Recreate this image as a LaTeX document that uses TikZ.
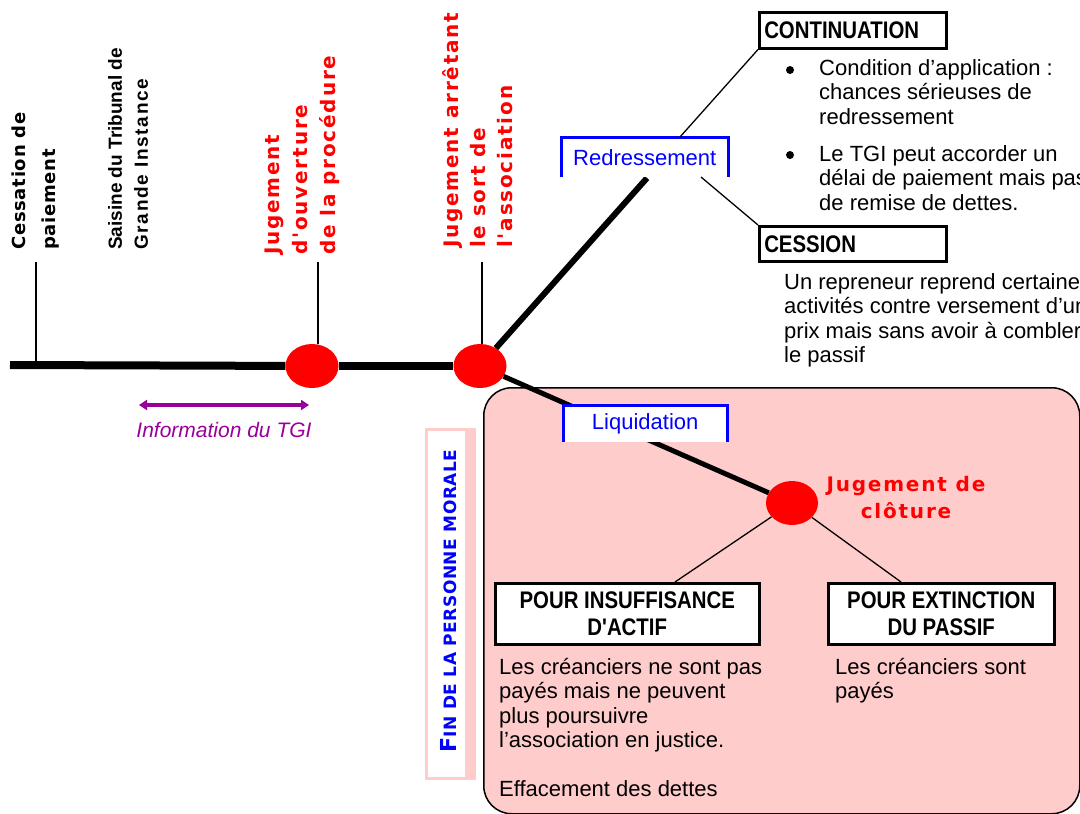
\documentclass[tikz,border=0pt]{standalone}
\usepackage{fontspec}
\setmainfont{Liberation Sans}
\newfontfamily\dvA[LetterSpace=4]{DejaVu Sans}
\newfontfamily\dvR[LetterSpace=9]{DejaVu Sans}
\newfontfamily\dvF[LetterSpace=3]{DejaVu Sans}
\newfontfamily\lbLS[LetterSpace=9]{Liberation Sans}
\newfontfamily\cond[FakeStretch=0.85]{Liberation Sans}
\usetikzlibrary{shapes.geometric,arrows.meta}
\definecolor{pinkc}{RGB}{255,204,204}
\definecolor{purp}{RGB}{153,0,153}
\begin{document}
\begin{tikzpicture}[x=1pt,y=-1pt,
  dotr/.style={ellipse, fill=red, inner sep=0, minimum width=53, minimum height=44},
  tickln/.style={line width=2},
  vlab/.style={rotate=90, anchor=north west, align=left, inner sep=0},
  blackbox/.style={draw, line width=2.5, fill=white, inner sep=0, anchor=north west, font=\cond\bfseries\fontsize{24}{27}\selectfont},
  bluebox/.style={fill=white, inner sep=0, text=blue, anchor=north west, font=\fontsize{22}{24}\selectfont},
  blueedge/.style={blue, line width=3},
  thinl/.style={line width=1.3},
  bulletdot/.style={circle, fill=black, inner sep=0, minimum size=8},
  body/.style={anchor=north west, align=left, inner sep=0, font=\fontsize{22}{24.5}\selectfont}
]
\useasboundingbox (0,0) rectangle (1080,814);

% liquidation zone
\node[draw, line width=1.5, fill=pinkc, rounded corners=28, minimum width=596, minimum height=426, anchor=north west, inner sep=0] (zone) at (483,387) {};
\node[fill=pinkc, minimum width=51, minimum height=352, anchor=north west, inner sep=0] (finbg) at (425,428) {};
\node[fill=white, minimum width=37, minimum height=346, anchor=north west, inner sep=0] (finw) at (428,431) {};
\node[rotate=90, text=blue, inner sep=0] (fin) at (449,601) {\dvF\bfseries{\fontsize{22}{22}\selectfont F}{\fontsize{17}{17}\selectfont IN DE LA PERSONNE MORALE}};

% timeline
\coordinate (t0) at (10,365);
\node[dotr] (d1) at (312,366) {};
\node[dotr] (d2) at (480,366) {};
\node[dotr, minimum width=52] (d3) at (792,503) {};
\draw[line width=8] (t0) -- (d1);
\draw[line width=8] (d1) -- (d2);
\coordinate (k1) at (36,262);
\coordinate (k2) at (318,262);
\coordinate (k3) at (482,262);
\draw[tickln] (k1) -- (k1 |- t0);
\draw[tickln] (k2) -- (k2 |- d1.north);
\draw[tickln] (k3) -- (k3 |- d2.north);

% branches
\coordinate (rb) at (647,178);
\draw[line width=6] (d2) -- (rb);
\draw[line width=5] (d2) -- (d3);

\node[bluebox, minimum width=167, minimum height=40] (redr) at (561,137) {Redressement};
\draw[blueedge] (redr.south west) -- (redr.north west) -- (redr.north east) -- (redr.south east);
\node[bluebox, minimum width=164, minimum height=37] (liq) at (563,405) {Liquidation};
\draw[blueedge] (liq.south west) -- (liq.north west) -- (liq.north east) -- (liq.south east);

% continuation / cession
\node[blackbox, text width=177, inner xsep=5, minimum height=36] (cont) at (758,11) {CONTINUATION};
\node[blackbox, text width=177, inner xsep=5, minimum height=35] (cess) at (758,225) {CESSION};
\coordinate (rt) at (680,137);
\draw[thinl] (rt) -- (cont.south west);
\coordinate (rr) at (701,177);
\draw[thinl] (rr) -- (cess.north west);

\node[bulletdot] (bu1) at (790,70) {};
\node[bulletdot] (bu2) at (790,155) {};
\node[body] (tx1) at (819,59) {Condition d'application :\\chances sérieuses de\\redressement};
\node[body] (tx2) at (819,145) {Le TGI peut accorder un\\délai de paiement mais pas\\de remise de dettes.};
\node[body] (tx3) at (784,273) {Un repreneur reprend certaines\\activités contre versement d'un\\prix mais sans avoir à combler\\le passif};

% cloture
\node[align=center, text=red, font=\dvR\bfseries\fontsize{20}{27}\selectfont, inner sep=0] (jc) at (906,498) {Jugement de\\clôture};
\node[blackbox, minimum width=264, minimum height=61, align=center] (pi) at (494,582) {POUR INSUFFISANCE\\D'ACTIF};
\node[blackbox, minimum width=226, minimum height=61, align=center] (pe) at (827,582) {POUR EXTINCTION\\DU PASSIF};
\coordinate (p1) at (675,582);
\coordinate (p2) at (901,582);
\draw[thinl] (d3) -- (p1);
\draw[thinl] (d3) -- (p2);
\node[body] (lt) at (499,658) {Les créanciers ne sont pas\\payés mais ne peuvent\\plus poursuivre\\l'association en justice.\\[24pt]Effacement des dettes};
\node[body] (rtx) at (835,658) {Les créanciers sont\\payés};

% information
\coordinate (ia) at (139,405);
\coordinate (ib) at (309,405);
\draw[purp, line width=4, {Triangle[length=8pt,width=10pt]}-{Triangle[length=8pt,width=10pt]}] (ia) -- (ib);
\node[text=purp, font=\itshape\fontsize{21}{24}\selectfont, inner sep=0] (info) at (224,430) {Information du TGI};

% vertical labels
\node[vlab, font=\dvA\bfseries\fontsize{18}{30}\selectfont] (l1) at (12,250) {Cessation de\\paiement};
\node[vlab, font=\bfseries\fontsize{19}{26}\selectfont] (l2) at (108,250) {Saisine du Tribunal de\\{\lbLS\bfseries Grande Instance}};
\node[vlab, text=red, font=\dvR\bfseries\fontsize{20}{28}\selectfont] (l3) at (265,255) {Jugement\\d'ouverture\\de la procédure};
\node[vlab, text=red, font=\dvR\bfseries\fontsize{20}{27}\selectfont] (l4) at (442,248) {Jugement arrêtant\\le sort de\\l'association};
\end{tikzpicture}
\end{document}
